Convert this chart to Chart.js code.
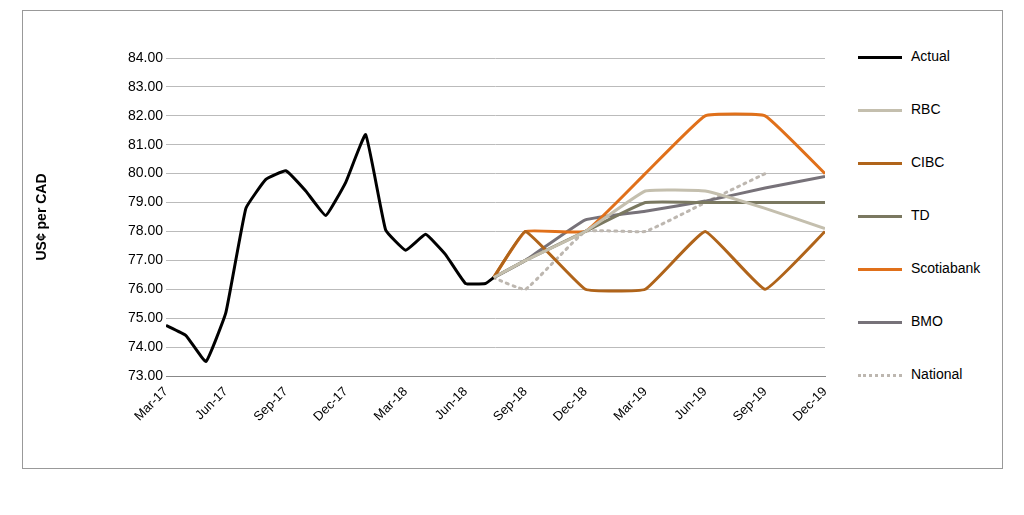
<!DOCTYPE html>
<html><head><meta charset="utf-8">
<script src="https://cdn.jsdelivr.net/npm/chart.js@4"></script>
<style>
body{margin:0;background:#fff;font-family:Arial,"Liberation Sans",sans-serif}
#frame{position:absolute;left:22px;top:10px;width:979px;height:457px;border:1px solid #999}
#c{position:absolute;left:30px;top:14px}
#legend{position:absolute;left:858px;top:47px}
.li{position:absolute;left:0;width:160px;height:20px;font-size:14px;color:#000}
.li span.sw{position:absolute;left:0;top:9px;width:44px;height:0}
.li span.t{position:absolute;left:53px;top:1px}
</style></head><body>
<div id="frame"></div>
<canvas id="c" width="820" height="450"></canvas>
<div id="legend"></div>
<script>
const monthLabels=["Mar-17","Apr-17","May-17","Jun-17","Jul-17","Aug-17","Sep-17","Oct-17","Nov-17","Dec-17","Jan-18","Feb-18","Mar-18","Apr-18","May-18","Jun-18","Jul-18","Aug-18","Sep-18","Oct-18","Nov-18","Dec-18","Jan-19","Feb-19","Mar-19","Apr-19","May-19","Jun-19","Jul-19","Aug-19","Sep-19","Oct-19","Nov-19","Dec-19"];
const actualX=[0,1,2,3,4,5,6,7,8,9,10,11,12,13,14,15,16,16.4];
const actual=[74.75,74.4,73.5,75.2,78.8,79.8,80.1,79.4,78.55,79.7,81.35,78.05,77.35,77.9,77.2,76.2,76.2,76.4];
const fcX=[16.4,18,21,24,27,30,33];
const rbc=[76.4,77,78,79.4,79.4,78.8,78.1];
const cibc=[76.4,78,76,76,78,76,78];
const td=[76.4,77,78,79,79,79,79];
const scotia=[76.4,78,78,80,82,82,80];
const bmo=[76.4,77,78.4,78.7,79.05,79.5,79.9];
const natX=[16.4,18,21,24,27,30];
const national=[76.4,76,78,78,79,80];
const pts=(xs,ys)=>xs.map((x,i)=>({x,y:ys[i]}));
const series=[
 {label:"Actual",data:pts(actualX,actual),color:"#000000",w:3},
 {label:"RBC",data:pts(fcX,rbc),color:"#c4bfae",w:3},
 {label:"CIBC",data:pts(fcX,cibc),color:"#b0641a",w:3},
 {label:"TD",data:pts(fcX,td),color:"#7a7860",w:3},
 {label:"Scotiabank",data:pts(fcX,scotia),color:"#e0701a",w:3},
 {label:"BMO",data:pts(fcX,bmo),color:"#777279",w:3},
 {label:"National",data:pts(natX,national),color:"#bdb7b0",w:3,dash:[2,5]}
];
new Chart(document.getElementById('c'),{type:'line',
 data:{datasets:series.map(s=>({label:s.label,data:s.data,borderColor:s.color,borderWidth:s.w,borderDash:s.dash||[],borderCapStyle:s.dash?'round':'butt',pointRadius:0,tension:0.1,fill:false}))},
 options:{responsive:false,animation:false,
  layout:{padding:{top:44,right:25,bottom:0,left:0}},
  plugins:{legend:{display:false},tooltip:{enabled:false}},
  scales:{
   x:{type:'linear',min:0,max:33,afterBuildTicks:a=>{a.ticks=[];for(let i=0;i<=33;i+=3)a.ticks.push({value:i});},
      afterFit:s=>{s.height=88;},
      ticks:{autoSkip:false,maxRotation:45,minRotation:45,color:'#000',font:{size:13},callback:v=>monthLabels[v]},
      grid:{display:false,drawTicks:true,tickLength:5},border:{color:'#888'}},
   y:{min:73,max:84,afterFit:s=>{s.width=136;},ticks:{stepSize:1,color:'#000',font:{size:14},callback:v=>v.toFixed(2)},
      grid:{color:'#bbb',drawTicks:false},border:{display:false},
      title:{display:true,text:'US¢ per CAD',color:'#000',font:{size:14,weight:'bold'},padding:{bottom:30}}}
  }}
});
const lg=document.getElementById('legend');
const tops=[0,53,106,159,212,265,318];
series.forEach((s,i)=>{const d=document.createElement('div');d.className='li';d.style.top=tops[i]+'px';
 const sw=s.dash?`border-top:3px dotted ${s.color}`:`border-top:3px solid ${s.color}`;
 d.innerHTML=`<span class="sw" style="${sw}"></span><span class="t">${s.label}</span>`;lg.appendChild(d);});
</script>
</body></html>
